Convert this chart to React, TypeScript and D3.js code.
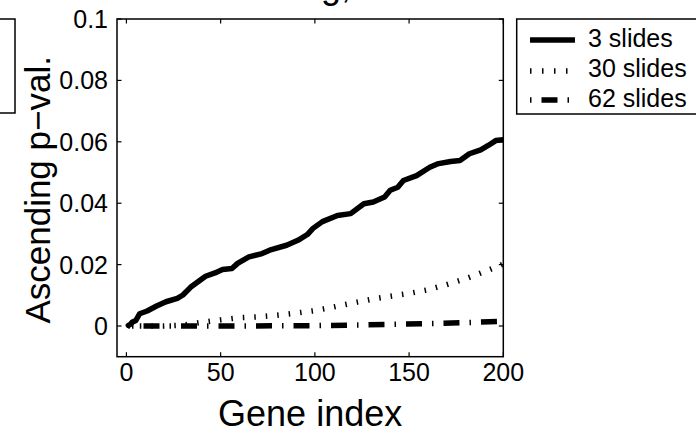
import React from "react";
import * as d3 from "d3";

// ---- data ----
const slides3X = [1, 2, 3, 5, 7, 11, 16, 21, 27, 30, 34, 38, 42, 47, 51, 56, 59, 65, 72, 76, 85, 91, 96, 99, 104, 112, 119, 126, 131, 137, 140, 144, 147, 154, 161, 165, 172, 177, 182, 188, 192, 196, 200];
const slides3Y = [0.0002, 0.0005, 0.0012, 0.0018, 0.004, 0.0049, 0.0065, 0.0079, 0.009, 0.0101, 0.0126, 0.0144, 0.0162, 0.0173, 0.0184, 0.0187, 0.0204, 0.0225, 0.0236, 0.0247, 0.0263, 0.0279, 0.0298, 0.0318, 0.034, 0.036, 0.0366, 0.0398, 0.0404, 0.042, 0.0442, 0.0452, 0.0474, 0.049, 0.0517, 0.0528, 0.0536, 0.0539, 0.0561, 0.0574, 0.0588, 0.0604, 0.0607];

const slides30X = [1, 20, 30, 40, 50, 60, 70, 80, 90, 100, 110, 120, 130, 140, 150, 160, 170, 180, 190, 200];
const slides30Y = [0, 0, 0.0003, 0.0012, 0.002, 0.0027, 0.003, 0.0035, 0.0042, 0.005, 0.0062, 0.0075, 0.0087, 0.0097, 0.0106, 0.0118, 0.0135, 0.0154, 0.0177, 0.0202];

const slides62X = [1, 50, 80, 100, 120, 140, 160, 180, 200];
const slides62Y = [0, 0, 0.00005, 0.0001, 0.0003, 0.0005, 0.0008, 0.0011, 0.0015];

const xTicks = [0, 50, 100, 150, 200];
const yTicks = [0, 0.02, 0.04, 0.06, 0.08, 0.1];
const yTickLabels = ["0", "0.02", "0.04", "0.06", "0.08", "0.1"];
const seriesNames = ["3 slides", "30 slides", "62 slides"];

const W = 696;
const H = 432;
const L = 117, R = 503.3, T = 19, B = 356.7;
const FONT = "'Liberation Sans', Arial, Helvetica, sans-serif";
const LW = 5.5;

const styles = [
  { dash: undefined as string | undefined, offset: 0 },
  { dash: "1.5 10", offset: 0 },
  { dash: "16 10 1.5 10", offset: 22.3 },
];

export default function App() {
  const x = d3.scaleLinear().domain([-5, 200]).range([L, R]);
  const y = d3.scaleLinear().domain([-0.01, 0.1]).range([B, T]);
  const line = d3.line<[number, number]>().x((d) => x(d[0])).y((d) => y(d[1]));

  const series = [
    slides3X.map((v, i) => [v, slides3Y[i]] as [number, number]),
    slides30X.map((v, i) => [v, slides30Y[i]] as [number, number]),
    slides62X.map((v, i) => [v, slides62Y[i]] as [number, number]),
  ];

  const tick = 4.5;
  const legendLineX0 = 530, legendLineX1 = 575;
  const legendRowsY = [40, 71, 100];
  const legendTextY = [47, 77, 107];
  const legendDash = [
    { dash: undefined as string | undefined, offset: 0 },
    { dash: "1.5 10.5", offset: 0 },
    { dash: "16 10 1.5 10", offset: 26 },
  ];

  return (
    <svg
      width={W}
      height={H}
      style={{ position: "absolute", left: 0, top: 0, background: "#fff" }}
      fontFamily={FONT}
    >
      <rect x={0} y={0} width={W} height={H} fill="#fff" />
      <defs>
        <clipPath id="plotclip">
          <rect x={L} y={T} width={R - L} height={B - T} />
        </clipPath>
      </defs>

      {/* title, almost entirely above the top edge (only descenders visible) */}
      <text x={351} y={-2} fontSize={36} textAnchor="end" fill="#000">
        Sorting,
      </text>

      {/* partial box at left edge */}
      <rect x={-60} y={19} width={75} height={94} fill="#fff" stroke="#000" strokeWidth={1.5} />

      {/* series */}
      <g clipPath="url(#plotclip)">
        {series.map((s, i) => (
          <path
            key={i}
            d={line(s) || ""}
            fill="none"
            stroke="#000"
            strokeWidth={LW}
            strokeLinejoin="round"
            strokeLinecap={i === 0 ? "round" : "butt"}
            strokeDasharray={styles[i].dash}
            strokeDashoffset={styles[i].offset}
          />
        ))}
      </g>

      {/* axes box */}
      <rect x={L} y={T} width={R - L} height={B - T} fill="none" stroke="#000" strokeWidth={1.5} />

      {/* x ticks */}
      {xTicks.map((t) => (
        <g key={"x" + t}>
          <line x1={x(t)} x2={x(t)} y1={B} y2={B - tick} stroke="#000" strokeWidth={1.2} />
          <line x1={x(t)} x2={x(t)} y1={T} y2={T + tick} stroke="#000" strokeWidth={1.2} />
          <text x={x(t)} y={381} fontSize={25} textAnchor="middle" fill="#000">
            {t}
          </text>
        </g>
      ))}

      {/* y ticks */}
      {yTicks.map((t, i) => (
        <g key={"y" + t}>
          <line x1={L} x2={L + tick} y1={y(t)} y2={y(t)} stroke="#000" strokeWidth={1.2} />
          <line x1={R} x2={R - tick} y1={y(t)} y2={y(t)} stroke="#000" strokeWidth={1.2} />
          <text x={108} y={y(t)} dy="0.36em" fontSize={25} textAnchor="end" fill="#000">
            {yTickLabels[i]}
          </text>
        </g>
      ))}

      {/* axis labels */}
      <text x={(L + R) / 2} y={426} fontSize={36} textAnchor="middle" fill="#000">
        Gene index
      </text>
      <text
        transform={`translate(50,${(T + B) / 2 + 2}) rotate(-90)`}
        fontSize={35}
        textAnchor="middle"
        fill="#000"
      >
        Ascending p−val.
      </text>

      {/* legend */}
      <rect x={516.7} y={19} width={200} height={95} fill="#fff" stroke="#000" strokeWidth={1.5} />
      {seriesNames.map((n, i) => (
        <g key={n}>
          <line
            x1={legendLineX0}
            x2={legendLineX1 + (i === 0 ? 0 : -5)}
            y1={legendRowsY[i]}
            y2={legendRowsY[i]}
            stroke="#000"
            strokeWidth={LW}
            strokeDasharray={legendDash[i].dash}
            strokeDashoffset={legendDash[i].offset}
          />
          <text x={588} y={legendTextY[i]} fontSize={25} fill="#000">
            {n}
          </text>
        </g>
      ))}
    </svg>
  );
}
